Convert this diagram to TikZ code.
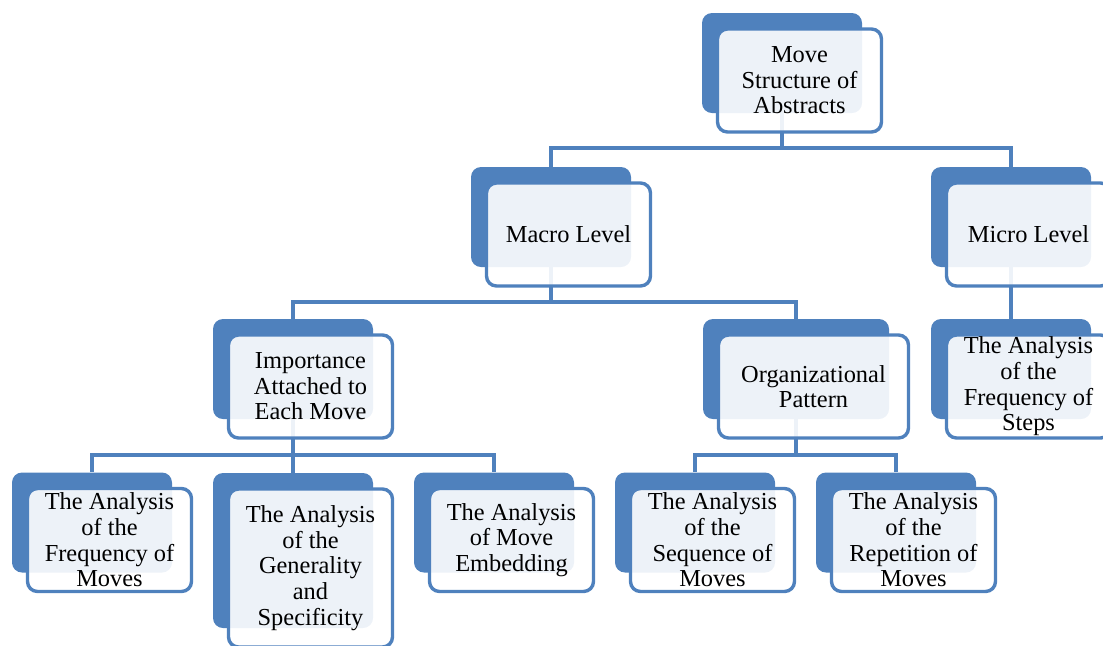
\documentclass[tikz,border=0pt]{standalone}
\usepackage{fontspec}
\setmainfont{Liberation Serif}
\usepackage{xcolor}
\usepackage{tikz}
\usetikzlibrary{positioning}
\usetikzlibrary{backgrounds}
\definecolor{boxblue}{HTML}{4F81BD}
\tikzset{
	back node/.style={rectangle,rounded corners=5pt,fill=boxblue,inner sep=0pt},
	front node/.style={rectangle,rounded corners=5pt,draw=boxblue,line width=1.7pt,
		fill=white,fill opacity=0.9,text opacity=1,align=center,inner sep=0pt,
		font=\fontsize{12.2}{12.8}\selectfont},
	link/.style={draw=boxblue,line width=1.7pt}
}
% name, x, y, width, height (px), text
\newcommand{\movebox}[6]{%
	\node [back node,minimum width={(#4)*0.5pt},minimum height={(#5)*0.5pt}] (#1-b) at (#2,#3) {};
	\node [front node,minimum width={(#4)*0.5pt+2pt},minimum height={(#5)*0.5pt+1.5pt},
		xshift=8.75pt,yshift=-8.75pt] (#1) at (#1-b) {#6};
}

\begin{document}
\begin{tikzpicture}[x=0.5pt,y=-0.5pt]
	\useasboundingbox (0,0) rectangle (1103,645);
	\clip (0,0) rectangle (1103,645);
	\movebox{root}{782}{63}{160}{100}{Move\\Structure of\\Abstracts}
	\movebox{macro}{551}{217}{160}{100}{Macro Level}
	\movebox{micro}{1011}{217}{160}{100}{Micro Level}
	\movebox{imp}{293}{369}{160}{100}{Importance\\Attached to\\Each Move}
	\movebox{org}{796}{369}{186}{100}{Organizational\\Pattern}
	\movebox{steps}{1011}{369}{160}{100}{The Analysis\\of the\\Frequency of\\Steps}
	\movebox{freq}{92}{522.5}{160}{100}{The Analysis\\of the\\Frequency of\\Moves}
	\movebox{gen}{293}{550.5}{160}{155}{The Analysis\\of the\\Generality\\and\\Specificity}
	\movebox{emb}{494}{522.5}{160}{100}{The Analysis\\of Move\\Embedding}
	\movebox{seq}{695}{522.5}{160}{100}{The Analysis\\of the\\Sequence of\\Moves}
	\movebox{rep}{896}{522.5}{160}{100}{The Analysis\\of the\\Repetition of\\Moves}
	% junctions of the connectors
	\coordinate (root-j) at (782,148);
	\coordinate (macro-j) at (551,302);
	\coordinate (imp-j) at (293,455);
	\coordinate (org-j) at (796,455);
	% connectors go under the boxes
	\begin{pgfonlayer}{background}
	\draw [link] (root-b) -- (root-j) -| (macro-b.north);
	\draw [link] (root-j) -| (micro-b.north);
	\draw [link] (micro-b) -- (steps-b.north);
	\draw [link] (macro-b) -- (macro-j) -| (imp-b.north);
	\draw [link] (macro-j) -| (org-b.north);
	\draw [link] (imp-b) -- (imp-j) -| (freq-b.north);
	\draw [link] (imp-j) -- (gen-b.north);
	\draw [link] (imp-j) -| (emb-b.north);
	\draw [link] (org-b) -- (org-j) -| (seq-b.north);
	\draw [link] (org-j) -| (rep-b.north);
	\end{pgfonlayer}
\end{tikzpicture}
\end{document}
